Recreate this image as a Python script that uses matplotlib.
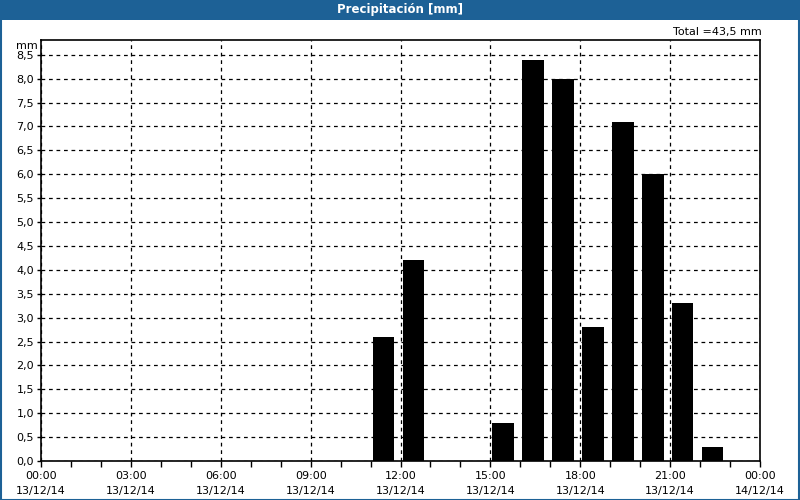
import matplotlib
matplotlib.use("Agg")
import matplotlib.pyplot as plt
from matplotlib.patches import Rectangle
import numpy as np

# Data
hours = [11, 12, 15, 16, 17, 18, 19, 20, 21, 22]
values = [2.6, 4.2, 0.8, 8.4, 8.0, 2.8, 7.1, 6.0, 3.3, 0.3]
tick_hours = [0, 3, 6, 9, 12, 15, 18, 21, 24]
tick_labels = ["00:00\n13/12/14", "03:00\n13/12/14", "06:00\n13/12/14",
               "09:00\n13/12/14", "12:00\n13/12/14", "15:00\n13/12/14",
               "18:00\n13/12/14", "21:00\n13/12/14", "00:00\n14/12/14"]
y_ticks = [0.0, 0.5, 1.0, 1.5, 2.0, 2.5, 3.0, 3.5, 4.0, 4.5, 5.0, 5.5,
           6.0, 6.5, 7.0, 7.5, 8.0, 8.5]
title = "Precipitación [mm]"
total_text = "Total =43,5 mm"

BLUE = "#1d6196"
W, H = 800, 500
fig = plt.figure(figsize=(8, 5), dpi=100)
fig.patch.set_facecolor("white")

# title bar and border
fig.patches.append(Rectangle((0, 1 - 20 / H), 1, 20 / H, transform=fig.transFigure,
                             facecolor=BLUE, edgecolor="none", zorder=0))
fig.patches.append(Rectangle((0.5 / W, 0.5 / H), 1 - 1.5 / W, 1 - 1.5 / H, transform=fig.transFigure,
                             facecolor="none", edgecolor=BLUE, linewidth=1.5, zorder=5))
fig.text(0.5, 1 - 10 / H, title, color="white", fontsize=8.5, fontweight="bold",
         ha="center", va="center", family="DejaVu Sans")

ax = fig.add_axes([41 / W, (H - 461) / H, (760 - 41) / W, (461 - 40) / H])
ax.bar(np.array(hours) + 0.07, values, width=0.71, align="edge", color="black", zorder=3)
ax.set_xlim(0, 24)
ax.set_ylim(0, 8.81)
ax.set_xticks(tick_hours)
ax.set_xticklabels(tick_labels, fontsize=8, linespacing=1.6)
ax.set_xticks(np.arange(0, 25, 1), minor=True)
ax.set_yticks(y_ticks)
ax.set_yticklabels([f"{v:.1f}".replace(".", ",") for v in y_ticks], fontsize=8)
ax.tick_params(axis="x", which="both", direction="out", length=4, width=1, pad=3)
ax.tick_params(axis="y", direction="out", length=3, width=1, pad=2)
ax.grid(True, which="major", color="black", linestyle=(0, (3, 3)), linewidth=0.9, zorder=1)
for s in ax.spines.values():
    s.set_linewidth(1.2)
    s.set_color("black")

fig.text(38 / W, 1 - 46 / H, "mm", fontsize=8, ha="right", va="center")
fig.text(762 / W, 1 - 32 / H, total_text, fontsize=8, ha="right", va="center")

fig.savefig("out.png", dpi=100)
